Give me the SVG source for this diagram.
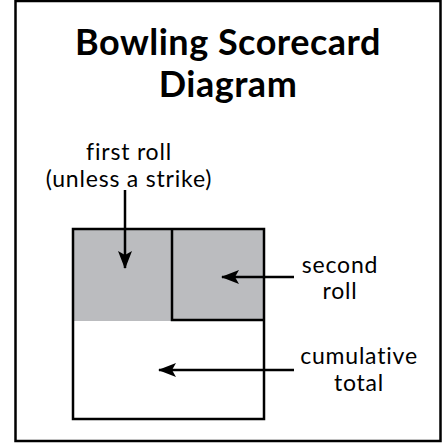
<svg xmlns="http://www.w3.org/2000/svg" width="442" height="444" viewBox="0 0 442 444">
<defs>
<style>
.t{font-family:Lato,"Open Sans","Liberation Sans",sans-serif;fill:#000;text-anchor:middle}
.title{font-size:36px;font-weight:bold;letter-spacing:0.5px}
.lbl{font-size:23px;letter-spacing:0.8px}
.box{fill:none;stroke:#000;stroke-width:2.5}
.arr{stroke:#000;stroke-width:2.5;fill:none;marker-end:url(#ah)}
</style>
<marker id="ah" viewBox="0 0 18 14" refX="17" refY="7" markerWidth="18" markerHeight="14" markerUnits="userSpaceOnUse" orient="auto">
<path d="M0,0 L18,7 L0,14 L4,7 Z" fill="#000"/>
</marker>
</defs>
<rect x="0" y="0" width="442" height="444" fill="#fff"/>
<rect x="15.5" y="1" width="425" height="440" fill="none" stroke="#000" stroke-width="2.5"/>
<g id="title">
<text class="t title" x="228" y="55">Bowling Scorecard</text>
<text class="t title" x="228" y="97">Diagram</text>
</g>
<g id="frame">
<rect x="73" y="229" width="191" height="92" fill="#BBBCBF"/>
<rect class="box" x="73" y="229" width="191" height="190"/>
<path class="box" d="M172,229 V320 H264"/>
</g>
<g id="first-roll">
<text class="t lbl" x="129" y="160">first roll</text>
<text class="t lbl" x="129" y="187">(unless a strike)</text>
</g>
<g id="second-roll">
<text class="t lbl" x="340" y="273">second</text>
<text class="t lbl" x="340" y="299">roll</text>
</g>
<g id="cumulative-total">
<text class="t lbl" x="359" y="364">cumulative</text>
<text class="t lbl" x="359" y="391">total</text>
</g>
<g id="connectors">
<line class="arr" x1="125" y1="190" x2="125" y2="268"/>
<line class="arr" x1="294" y1="277" x2="222" y2="277"/>
<line class="arr" x1="294" y1="370" x2="159" y2="370"/>
</g>
</svg>
